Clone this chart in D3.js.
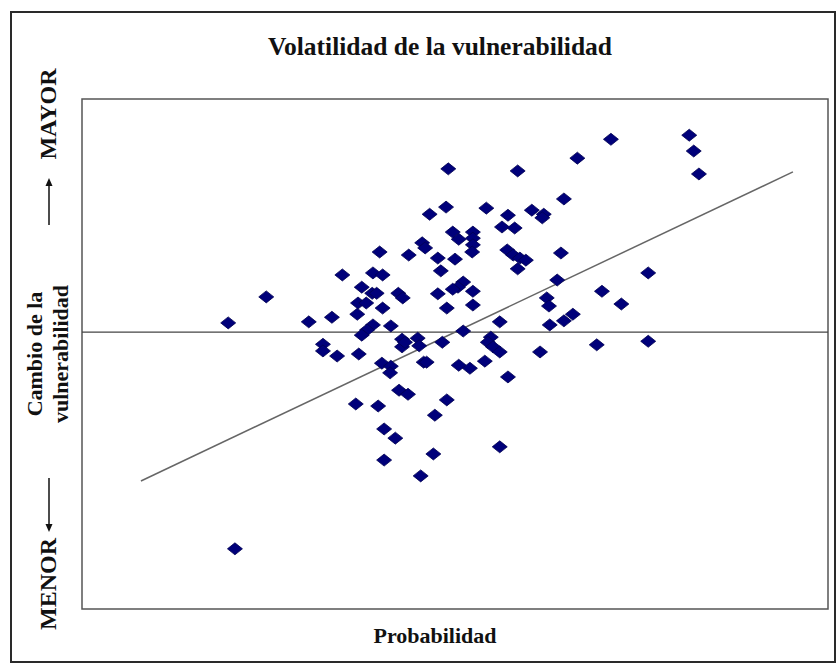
<!DOCTYPE html>
<html>
<head>
<meta charset="utf-8">
<script src="https://cdn.jsdelivr.net/npm/d3@7"></script>
<style>
  body { margin: 0; background: #fff; }
  svg text { font-family: "Liberation Serif", "Times New Roman", serif; font-weight: bold; fill: #111; }
</style>
</head>
<body>
<div id="chart"></div>
<script>
// values (arbitrary units, 0 = the horizontal reference line)
let probX = [19.6, 24.7, 30.4, 33.5, 34.9, 32.3, 32.3, 34.2, 20.5, 39.9,
             43.8, 45.6, 46.0, 39.0, 40.3, 37.5, 38.9, 39.5, 42.4, 43.0,
             37.0, 38.1, 40.3, 36.9, 39.0, 41.4, 38.2, 37.5, 42.9, 42.9,
             45.0, 45.2, 37.1, 40.2, 41.4, 41.3, 45.8, 46.6, 48.8, 49.1,
             58.4, 66.4, 64.6, 54.2, 57.1, 56.3, 58.0, 60.3, 61.9, 61.7,
             49.7, 50.5, 52.4, 52.4, 52.4, 52.3, 47.7, 50.0, 48.1, 57.0,
             57.8, 58.7, 59.5, 58.4, 63.7, 64.2, 51.1, 50.4, 49.7, 52.4,
             47.7, 48.9, 52.4, 62.3, 62.6, 56.0, 62.7, 64.6, 65.8, 51.1,
             48.3, 54.8, 54.4, 55.1, 56.0, 61.4, 46.2, 50.5, 52.0, 54.0,
             57.1, 42.5, 43.7, 36.7, 39.7, 48.9, 47.3, 40.5, 42.0, 56.0,
             47.1, 40.5, 45.4, 70.9, 81.4, 82.0, 82.7, 75.9, 69.7, 72.3,
             69.0, 75.9, 43.3];
let cambioY = [1.8, 6.9, 2.0, 2.9, 11.2, -2.4, -3.7, -4.7, -42.5, 15.7,
               15.1, 17.5, 16.5, 11.6, 11.2, 8.8, 7.6, 7.6, 7.6, 6.7,
               5.7, 5.7, 4.7, 3.5, 1.4, 1.2, 0.4, -0.6, -1.4, -2.9,
               -1.2, -2.7, -4.3, -6.1, -6.7, -8.0, -5.9, 23.1, 24.5, 32.0,
               31.6, 34.1, 26.1, 24.3, 22.9, 20.6, 20.4, 23.9, 23.1, 22.4,
               19.6, 18.2, 19.6, 18.4, 17.1, 15.7, 14.5, 14.3, 12.0, 16.1,
               15.1, 14.5, 14.1, 12.4, 10.2, 15.5, 9.8, 8.8, 8.4, 8.0,
               7.5, 4.7, 5.3, 6.7, 5.1, 2.0, 1.4, 2.2, 3.5, 0.2,
               -2.0, -1.0, -2.0, -2.9, -3.9, -3.9, -5.9, -6.5, -7.1, -5.7,
               -8.8, -11.4, -12.2, -14.1, -14.5, -13.3, -16.3, -19.0, -20.8, -22.5,
               -23.9, -25.1, -28.2, 37.8, 38.6, 35.5, 31.0, 11.6, 8.0, 5.5,
               -2.5, -1.8, -2.0];
// trend line end points
let trendX = [7.9, 95.3];
let trendY = [-29.2, 31.4];

let xDomain = [0, 100],
    yDomain = [-54.3, 45.7];

let chartTitle = 'Volatilidad de la vulnerabilidad',
    xTitle = 'Probabilidad',
    yTitle = ['Cambio de la', 'vulnerabilidad'],
    topLabel = 'MAYOR',
    bottomLabel = 'MENOR';

let pointColor = '#00007a',
    pointStroke = '#000050';

let width = 837, height = 664;
let plot = {left: 82, top: 99, right: 828, bottom: 609};

let svg = d3.select('#chart').append('svg')
    .attr('width', width)
    .attr('height', height);

// outer frame
svg.append('rect')
    .attr('x', 11).attr('y', 12)
    .attr('width', 824).attr('height', 650)
    .attr('fill', '#fff')
    .attr('stroke', '#2a2a2a')
    .attr('stroke-width', 2);

let x = d3.scaleLinear().domain(xDomain).range([plot.left, plot.right]);
let y = d3.scaleLinear().domain(yDomain).range([plot.bottom, plot.top]);

// plot box
svg.append('rect')
    .attr('x', plot.left).attr('y', plot.top)
    .attr('width', plot.right - plot.left)
    .attr('height', plot.bottom - plot.top)
    .attr('fill', '#fff')
    .attr('stroke', '#555')
    .attr('stroke-width', 1.5);

// zero line
svg.append('line')
    .attr('x1', x(xDomain[0])).attr('x2', x(xDomain[1]))
    .attr('y1', y(0)).attr('y2', y(0))
    .attr('stroke', '#444')
    .attr('stroke-width', 1.2);

// trend line
svg.append('line')
    .attr('x1', x(trendX[0])).attr('y1', y(trendY[0]))
    .attr('x2', x(trendX[1])).attr('y2', y(trendY[1]))
    .attr('stroke', '#666')
    .attr('stroke-width', 1.5);

// diamonds
let pts = probX.map(function(v, i){ return {x: v, y: cambioY[i]}; });
let dw = 7.5, dh = 6;
svg.append('g').attr('class', 'points')
    .selectAll('path')
    .data(pts)
    .enter()
    .append('path')
    .attr('d', 'M0,' + (-dh) + 'L' + dw + ',0L0,' + dh + 'L' + (-dw) + ',0Z')
    .attr('transform', function(d){ return 'translate(' + x(d.x) + ',' + y(d.y) + ')'; })
    .attr('fill', pointColor)
    .attr('stroke', pointStroke)
    .attr('stroke-width', 0.8);

// titles
svg.append('text')
    .attr('x', 440).attr('y', 55)
    .attr('text-anchor', 'middle')
    .attr('font-size', 25.5)
    .text(chartTitle);

svg.append('text')
    .attr('x', 435).attr('y', 643)
    .attr('text-anchor', 'middle')
    .attr('font-size', 22)
    .text(xTitle);

// left side labels, rotated
function vText(txt, cx, cy, size) {
    svg.append('text')
        .attr('transform', 'translate(' + cx + ',' + cy + ') rotate(-90)')
        .attr('text-anchor', 'middle')
        .attr('font-size', size)
        .text(txt);
}
vText(topLabel, 56, 114, 24);
vText(bottomLabel, 56, 584, 24);
vText(yTitle[0], 42, 354, 22);
vText(yTitle[1], 68, 354, 22);

// arrows
function arrow(x0, yFrom, yTo) {
    let dir = yTo < yFrom ? -1 : 1;
    svg.append('line')
        .attr('x1', x0).attr('x2', x0)
        .attr('y1', yFrom).attr('y2', yTo - dir * 6)
        .attr('stroke', '#111')
        .attr('stroke-width', 1.5);
    svg.append('path')
        .attr('d', 'M' + (x0 - 3.5) + ',' + (yTo - dir * 8) + 'L' + (x0 + 3.5) + ',' + (yTo - dir * 8) + 'L' + x0 + ',' + yTo + 'Z')
        .attr('fill', '#111');
}
arrow(49, 225, 178);
arrow(49, 478, 532);
</script>
</body>
</html>
